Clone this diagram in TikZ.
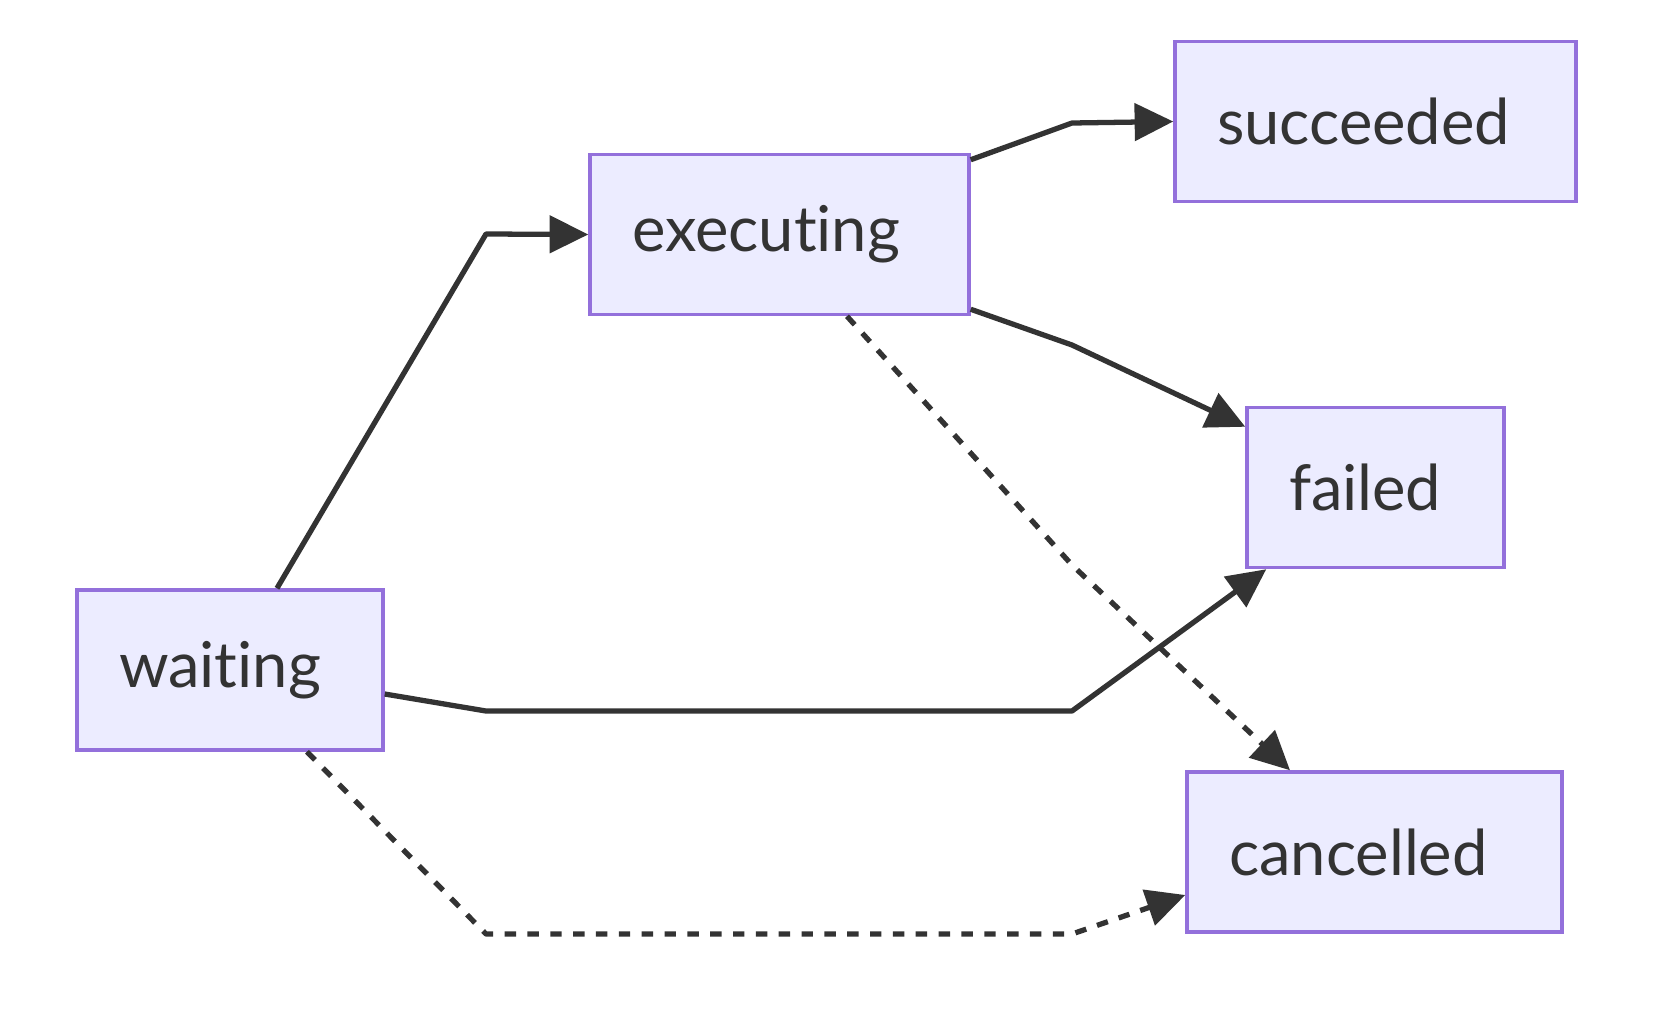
\documentclass[tikz,border=0pt]{standalone}
\usepackage{fontspec}
\setmainfont{Lato}[Ligatures={NoCommon}]
\usetikzlibrary{arrows.meta,positioning}
\definecolor{statefill}{HTML}{ECECFF}
\definecolor{stateline}{HTML}{9370DB}
\definecolor{edgeline}{HTML}{333333}

\begin{document}
\begin{tikzpicture}[x=0.02cm, y=-0.02cm, >={Triangle[length=22pt,width=21pt]},
  font=\fontsize{36}{43}\selectfont,
  state/.style={draw=stateline, fill=statefill, line width=2pt, text=edgeline,
    minimum height=3.2cm, inner xsep=0.84cm, text width=#1, align=left},
  flow/.style={draw=edgeline, line width=3pt, line join=round},
  maybe/.style={flow, dash pattern=on 6.5pt off 6.5pt}]
\useasboundingbox (0,0) rectangle (1661,1015);
\node[state=4.44cm] (waiting) at (230,670) {waiting};
\node[state=5.9cm] (executing) at (779.5,234.5) {executing};
\node[state=6.34cm] (succeeded) at (1375.5,121.5) {succeeded};
\node[state=3.46cm] (failed) at (1375.5,487.5) {failed};
\node[state=5.82cm] (cancelled) at (1374.5,852) {cancelled};
% transitions
\draw[flow,->] ([xshift=0.94cm]waiting.north) -- (486,234) -- (executing.west);
\draw[flow,->] ([yshift=-0.14cm]executing.north east) -- (1072,123) -- (succeeded.west);
\draw[flow,->] ([yshift=0.14cm]executing.south east) -- (1072,345) -- ([yshift=-0.42cm]failed.north west);
\draw[maybe,->] ([xshift=1.35cm]executing.south) -- (1072,565) -- ([xshift=-1.69cm]cancelled.north);
\draw[flow,->] ([yshift=-0.48cm]waiting.east) -- (486,711) -- (1072,711) -- ([xshift=0.42cm]failed.south west);
\draw[maybe,->] ([xshift=1.54cm]waiting.south) -- (486,934) -- (1072,934) -- ([yshift=-0.86cm]cancelled.west);
\end{tikzpicture}
\end{document}
